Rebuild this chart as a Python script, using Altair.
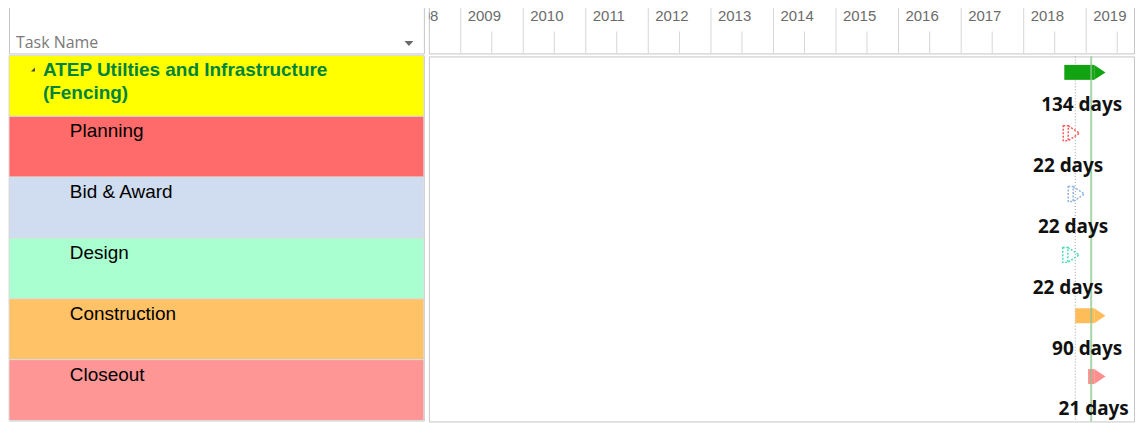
import altair as alt
import pandas as pd

# ---------------- data ----------------
tasks = ["ATEP Utilties and Infrastructure (Fencing)", "Planning", "Bid & Award",
         "Design", "Construction", "Closeout"]
levels = [0, 1, 1, 1, 1, 1]
durations = [134, 22, 22, 22, 90, 21]
starts = ["2018-08-26", "2018-08-20", "2018-09-18", "2018-08-17", "2018-10-29", "2019-01-12"]
ends = ["2019-02-17", "2018-09-18", "2018-10-17", "2018-09-16", "2019-02-17", "2019-02-17"]
years = list(range(2008, 2020))
marker_dates = ["2018-10-29"]
status_dates = ["2019-01-30"]
header_text = ["Task Name"]

# ---------------- styles ----------------
row_colors = ["#ffff00", "#ff6b6b", "#d0dcef", "#aaffd0", "#ffc266", "#ff9696"]
bar_colors = ["#12a312", "#ff5a5a", "#8db4e2", "#4dd9b3", "#ffbd5a", "#ff8e8e"]
outlined = ["Planning", "Bid & Award", "Design"]

LEFT_W, RIGHT_W, HEAD_H, BODY_H = 416, 707, 52, 366

df = pd.DataFrame({
    "task": tasks,
    "level": levels,
    "duration": durations,
    "start": starts,
    "end": ends,
})
mid = pd.to_datetime(df["start"]) + (pd.to_datetime(df["end"]) - pd.to_datetime(df["start"])) / 2
df["mid"] = mid.dt.strftime("%Y-%m-%d")
df["label"] = df["task"].str.replace(" (", "\n(", regex=False)
df["dur_label"] = df["duration"].astype(str) + " days"
df["outline"] = df["task"].isin(outlined)

years_df = pd.DataFrame({"date": [f"{y}-01-01" for y in years], "label": [str(y) for y in years]})
half_df = pd.DataFrame({"date": [f"{y}-07-01" for y in years]})

xscale = alt.Scale(domain=[alt.DateTime(year=2008, month=6, date=29, utc=True),
                           alt.DateTime(year=2019, month=10, date=7, utc=True)], nice=False)
yscale = alt.Scale(domain=tasks, paddingInner=0, paddingOuter=0)
Y = alt.Y("task:N", scale=yscale, axis=None)

# ---------------- left header ----------------
lh_base = alt.Chart(pd.DataFrame({"h": header_text}))
lh_text = lh_base.mark_text(align="left", baseline="top", font="Open Sans",
                            fontSize=16, color="#7a7a7a").encode(
    x=alt.value(7), y=alt.value(34), text="h:N")
lh_arrow = lh_base.mark_point(shape="M-1,-0.55 L1,-0.55 L0,0.55 Z", size=81, filled=True,
                              color="#6a6a6a", opacity=1).encode(
    x=alt.value(401), y=alt.value(42))
left_head = alt.layer(lh_text, lh_arrow).properties(width=LEFT_W, height=HEAD_H)

# ---------------- left body ----------------
lb = alt.Chart(df).encode(y=Y)
rows = lb.mark_rect(stroke="#dcdcdc", strokeWidth=1).encode(
    x=alt.value(0), x2=alt.value(LEFT_W),
    fill=alt.Fill("task:N", scale=alt.Scale(domain=tasks, range=row_colors), legend=None))
sum_text = lb.transform_filter("datum.level == 0").mark_text(
    align="left", baseline="alphabetic", dy=-9.5, font="Liberation Sans", fontSize=19,
    fontWeight="bold", color="#00843d", lineBreak="\n", lineHeight=23).encode(
    x=alt.value(34), text="label:N")
sub_text = lb.transform_filter("datum.level == 1").mark_text(
    align="left", baseline="alphabetic", dy=-9.5, font="Liberation Sans", fontSize=19,
    color="#000000").encode(x=alt.value(61), text="label:N")
expander = lb.transform_filter("datum.level == 0").mark_point(
    shape="M1,-1 L1,1 L-1,1 Z", size=16, filled=True, color="#444444", opacity=1,
    yOffset=-16.5).encode(x=alt.value(24))
left_body = alt.layer(rows, sum_text, sub_text, expander).properties(width=LEFT_W, height=BODY_H)

# ---------------- right header ----------------
X = lambda f: alt.X(f, scale=xscale, axis=None)
year_rules = alt.Chart(years_df).mark_rule(color="#d6d6d6", clip=True).encode(
    x=X("date:T"), y=alt.value(0), y2=alt.value(HEAD_H))
half_rules = alt.Chart(half_df).mark_rule(color="#d6d6d6", clip=True).encode(
    x=X("date:T"), y=alt.value(30), y2=alt.value(HEAD_H))
year_labels = alt.Chart(years_df).mark_text(
    align="left", baseline="top", dx=7, font="Liberation Sans", fontSize=15,
    color="#6b6b6b", clip=True).encode(x=X("date:T"), y=alt.value(7.5), text="label:N")
right_head = alt.layer(year_rules, half_rules, year_labels).properties(width=RIGHT_W, height=HEAD_H)

# ---------------- right body ----------------
rb = alt.Chart(df).encode(y=Y)
bar_color = alt.Color("task:N", scale=alt.Scale(domain=tasks, range=bar_colors), legend=None)
dotted = alt.Chart(pd.DataFrame({"date": marker_dates})).mark_rule(
    color="#a0a0a0", strokeDash=[1, 2], strokeWidth=1).encode(x=X("date:T"))
solid_bars = rb.transform_filter("!datum.outline").mark_bar(
    height=15, yOffset=-14.5).encode(x=X("start:T"), x2="end:T", color=bar_color)
solid_tips = rb.transform_filter("!datum.outline").mark_point(
    shape="M0,-1 L1.5,0 L0,1 Z", size=225, filled=True, opacity=1, yOffset=-14.5).encode(
    x=X("end:T"), color=bar_color)
out_bars = rb.transform_filter("datum.outline").mark_bar(
    height=15, yOffset=-14.5, filled=False, strokeDash=[2, 1.5], strokeWidth=1.5).encode(
    x=X("start:T"), x2="end:T", color=bar_color)
out_tips = rb.transform_filter("datum.outline").mark_point(
    shape="M0,-1 L1.5,0 L0,1", size=225, filled=False, opacity=1, strokeDash=[2, 1.5],
    strokeWidth=1.5, yOffset=-14.5).encode(x=X("end:T"), color=bar_color)
status = alt.Chart(pd.DataFrame({"date": status_dates})).mark_rule(
    color="#8cc68c", strokeWidth=2, opacity=0.75).encode(x=X("date:T"))
dur_text = rb.mark_text(font="Noto Sans", fontWeight="bold", fontSize=19, align="center",
                        baseline="alphabetic", dy=24.5, dx=2.5, color="#111111").encode(
    x=X("mid:T"), text="dur_label:N")
right_body = alt.layer(dotted, solid_bars, solid_tips, out_bars, out_tips, status,
                       dur_text).properties(width=RIGHT_W, height=BODY_H)

chart = alt.hconcat(
    alt.vconcat(left_head, left_body, spacing=0),
    alt.vconcat(right_head, right_body, spacing=0),
    spacing=3,
).properties(
    padding={"left": 0, "top": -8, "right": 0, "bottom": 0}
).resolve_scale(color="independent").configure_view(stroke="#c6c6c6")

chart.save("out.html", embed_options={"renderer": "svg", "actions": False})
